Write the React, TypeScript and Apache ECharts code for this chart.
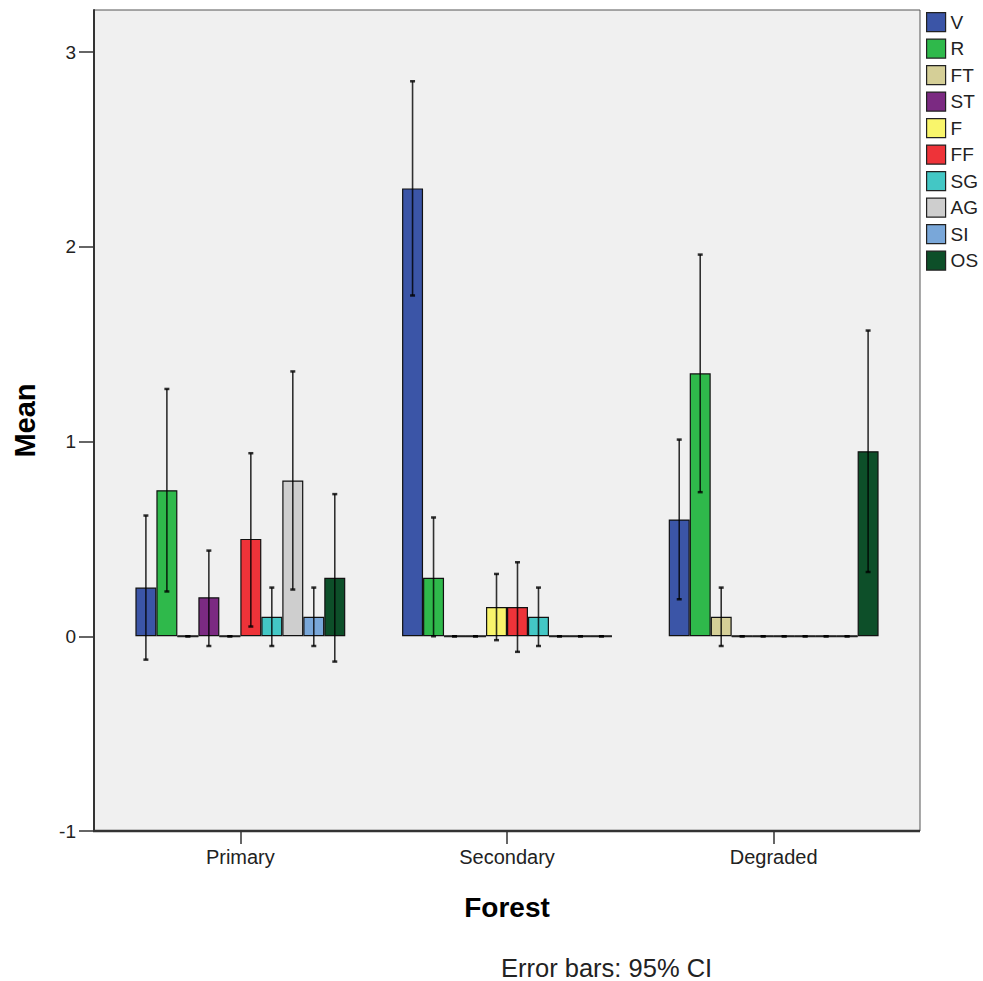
import React, { useEffect, useRef } from "react";
import * as echarts from "echarts";

const categories = ["Primary", "Secondary", "Degraded"];
const seriesNames = ["V", "R", "FT", "ST", "F", "FF", "SG", "AG", "SI", "OS"];
const colors = ["#3b55a7", "#2fb94b", "#d5cf97", "#7b2a82", "#f9f56b", "#ee3339", "#43c7c5", "#cecece", "#79a7d9", "#0d4f29"];
// mean per series, [Primary, Secondary, Degraded]
const V = [0.25, 2.3, 0.6];
const R = [0.75, 0.3, 1.35];
const FT = [0, 0, 0.1];
const ST = [0.2, 0, 0];
const F = [0, 0.15, 0];
const FF = [0.5, 0.15, 0];
const SG = [0.1, 0.1, 0];
const AG = [0.8, 0, 0];
const SI = [0.1, 0, 0];
const OS = [0.3, 0, 0.95];
const means = [V, R, FT, ST, F, FF, SG, AG, SI, OS];
// 95% CI lower / upper per series
const V_ci = [[-0.12, 0.62], [1.75, 2.85], [0.19, 1.01]];
const R_ci = [[0.23, 1.27], [0, 0.61], [0.74, 1.96]];
const FT_ci = [[0, 0], [0, 0], [-0.05, 0.25]];
const ST_ci = [[-0.05, 0.44], [0, 0], [0, 0]];
const F_ci = [[0, 0], [-0.02, 0.32], [0, 0]];
const FF_ci = [[0.05, 0.94], [-0.08, 0.38], [0, 0]];
const SG_ci = [[-0.05, 0.25], [-0.05, 0.25], [0, 0]];
const AG_ci = [[0.24, 1.36], [0, 0], [0, 0]];
const SI_ci = [[-0.05, 0.25], [0, 0], [0, 0]];
const OS_ci = [[-0.13, 0.73], [0, 0], [0.33, 1.57]];
const cis = [V_ci, R_ci, FT_ci, ST_ci, F_ci, FF_ci, SG_ci, AG_ci, SI_ci, OS_ci];
const yTicks = [-1, 0, 1, 2, 3];

const GAP = 0.213;

export default function App() {
  const ref = useRef<HTMLDivElement>(null);
  useEffect(() => {
    const chart = echarts.init(ref.current!, null, { renderer: "svg" });
    const n = seriesNames.length;
    const errData: number[][] = [];
    cis.forEach((s, si) =>
      s.forEach((c, ci) => errData.push([ci, si, c[0], c[1], means[si][ci]]))
    );
    const font = "'Liberation Sans', Arial, sans-serif";
    chart.setOption({
      animation: false,
      backgroundColor: "#ffffff",
      grid: { left: 107, right: 76, top: 10, bottom: 150 },
      legend: {
        orient: "vertical", left: 921, top: 7, itemWidth: 19, itemHeight: 19, itemGap: 6.3,
        icon: "rect",
        itemStyle: { borderColor: "#222", borderWidth: 1.2 },
        textStyle: { fontSize: 19, color: "#222", fontFamily: font },
        data: seriesNames,
      },
      xAxis: {
        type: "category", data: categories,
        name: "Forest", nameLocation: "middle", nameGap: 62,
        nameTextStyle: { fontSize: 28, fontWeight: "bold", color: "#000", fontFamily: font },
        axisLine: { show: false, onZero: false },
        axisTick: { show: true, alignWithLabel: true, length: 13, lineStyle: { color: "#333", width: 1.5 } },
        axisLabel: { fontSize: 20, color: "#222", margin: 16, fontFamily: font },
      },
      yAxis: {
        type: "value", min: -1, max: 3.216, interval: 1, offset: 13,
        name: "Mean", nameLocation: "middle", nameGap: 55, nameRotate: 90,
        nameTextStyle: { fontSize: 29, fontWeight: "bold", color: "#000", fontFamily: font },
        axisLine: { show: true, lineStyle: { color: "#333", width: 2 } },
        axisTick: { show: true, length: 15, lineStyle: { color: "#333", width: 1.5 } },
        axisLabel: {
          fontSize: 19, color: "#222", margin: 18, fontFamily: font, showMaxLabel: false,
          formatter: (v: number) => (yTicks.includes(v) ? String(v) : ""),
        },
        splitLine: { show: false },
      },
      series: [
        ...seriesNames.map((name, i) => ({
          name, type: "bar", data: means[i],
          barGap: "0%", barCategoryGap: GAP * 100 + "%",
          itemStyle: { color: colors[i], borderColor: "#111", borderWidth: 1.2 },
        })),
        {
          type: "custom",
          data: errData,
          encode: { x: 0, y: [2, 3] },
          z: 10,
          renderItem: (params: any, api: any) => {
            const ci = api.value(0);
            const si = api.value(1);
            const m = api.value(4);
            const lo = api.coord([ci, api.value(2)]);
            const hi = api.coord([ci, api.value(3)]);
            const zero = api.coord([ci, 0]);
            const catW = api.size([1, 0])[0];
            const bw = (catW * (1 - GAP)) / n;
            const x = lo[0] + (si - (n - 1) / 2) * bw;
            const st = { stroke: "rgba(0,0,0,0.8)", lineWidth: 1.6 };
            const children: any[] = [];
            if (m === 0) {
              children.push({
                type: "line",
                shape: { x1: x - bw / 2, y1: zero[1], x2: x + bw / 2, y2: zero[1] },
                style: { stroke: "#222", lineWidth: 2 },
              });
            }
            children.push(
              { type: "line", shape: { x1: x, y1: lo[1], x2: x, y2: hi[1] }, style: st },
              { type: "line", shape: { x1: x - 2.5, y1: lo[1], x2: x + 2.5, y2: lo[1] }, style: { ...st, lineWidth: 2.5 } },
              { type: "line", shape: { x1: x - 2.5, y1: hi[1], x2: x + 2.5, y2: hi[1] }, style: { ...st, lineWidth: 2.5 } }
            );
            return { type: "group", children };
          },
        },
      ],
      graphic: [
        {
          type: "rect", z: -10, silent: true,
          shape: { x: 94, y: 10, width: 826, height: 821 },
          style: { fill: "#f0f0f0", stroke: "#555", lineWidth: 1 },
        },
        {
          type: "line", z: 5, silent: true,
          shape: { x1: 93, y1: 831, x2: 920, y2: 831 },
          style: { stroke: "#333", lineWidth: 2.5 },
        },
        {
          type: "text", left: 501, top: 955,
          style: { text: "Error bars: 95% CI", fontSize: 25.5, fill: "#222", fontFamily: font },
        },
      ],
    });
    return () => chart.dispose();
  }, []);
  return <div ref={ref} style={{ width: 983, height: 981, position: "absolute", left: 0, top: 0 }} />;
}
